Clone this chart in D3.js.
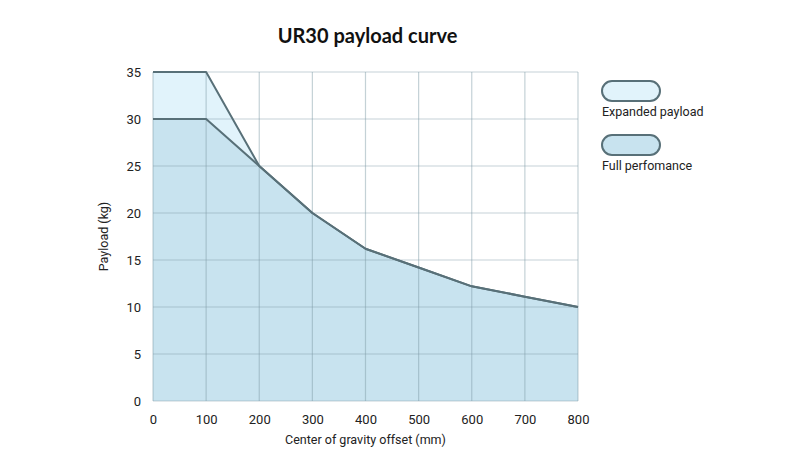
<!DOCTYPE html>
<html>
<head>
<meta charset="utf-8">
<script src="https://cdn.jsdelivr.net/npm/d3@7"></script>
<style>
  body { margin: 0; background: #fff; }
  text { font-family: Roboto, sans-serif; fill: #222; }
</style>
</head>
<body>
<div id="chart"></div>
<script>
// chart data
var offsets = [0, 100, 200, 300, 400, 500, 600, 700, 800];
var fullPayload = [30, 30, 25, 20, 16.2, 14.2, 12.2, 11.1, 10];
var expandedPayload = [35, 35, 25, 20, 16.2, 14.2, 12.2, 11.1, 10];
var yTicks = [0, 5, 10, 15, 20, 25, 30, 35];
var legendLabels = ["Expanded payload", "Full perfomance"];

var width = 800,
    height = 475,
    margins = { top: 72, right: 222, bottom: 74, left: 153 };

var lineColor = '#587078',
    fullFill = '#c8e3ef',
    expandedFill = '#e1f3fb';

var svg = d3.select('#chart').append('svg')
  .attr('width', width)
  .attr('height', height);

var x = d3.scaleLinear()
  .domain([0, 800])
  .range([margins.left, width - margins.right]);

var y = d3.scaleLinear()
  .domain([0, 35])
  .range([height - margins.bottom, margins.top]);

var area = d3.area()
  .x(function(d, i) { return x(offsets[i]); })
  .y0(y(0))
  .y1(function(d) { return y(d); });

var line = d3.line()
  .x(function(d, i) { return x(offsets[i]); })
  .y(function(d) { return y(d); });

svg.append('path')
  .attr('d', area(expandedPayload))
  .attr('fill', expandedFill);

svg.append('path')
  .attr('d', area(fullPayload))
  .attr('fill', fullFill);

// grid on top of the fills
var grid = svg.append('g')
  .attr('stroke', '#7d98a3')
  .attr('stroke-opacity', 0.45)
  .attr('stroke-width', 1.2);

grid.selectAll('.vgrid')
  .data(offsets)
  .enter().append('line')
  .attr('x1', function(d) { return x(d); })
  .attr('x2', function(d) { return x(d); })
  .attr('y1', y(0))
  .attr('y2', y(35));

grid.selectAll('.hgrid')
  .data(yTicks)
  .enter().append('line')
  .attr('x1', x(0))
  .attr('x2', x(800))
  .attr('y1', function(d) { return y(d); })
  .attr('y2', function(d) { return y(d); });

svg.append('path')
  .attr('d', line(expandedPayload))
  .attr('fill', 'none')
  .attr('stroke', lineColor)
  .attr('stroke-width', 2)
  .attr('stroke-linejoin', 'round');

svg.append('path')
  .attr('d', line(fullPayload))
  .attr('fill', 'none')
  .attr('stroke', lineColor)
  .attr('stroke-width', 2)
  .attr('stroke-linejoin', 'round');

// axes
var xAxis = d3.axisBottom(x).tickValues(offsets).tickSize(0).tickPadding(14);
var yAxis = d3.axisLeft(y).tickValues(yTicks).tickSize(0).tickPadding(12);

svg.append('g')
  .attr('transform', 'translate(0,' + y(0) + ')')
  .call(xAxis)
  .call(function(g) { g.select('.domain').remove(); })
  .selectAll('text')
  .attr('font-size', 13)
  .attr('font-family', 'Roboto, sans-serif')
  .attr('fill', '#222');

svg.append('g')
  .attr('transform', 'translate(' + x(0) + ',0)')
  .call(yAxis)
  .call(function(g) { g.select('.domain').remove(); })
  .selectAll('text')
  .attr('font-size', 13)
  .attr('font-family', 'Roboto, sans-serif')
  .attr('fill', '#222');

svg.append('text')
  .attr('x', (x(0) + x(800)) / 2)
  .attr('y', 444)
  .attr('text-anchor', 'middle')
  .attr('font-size', 12.5)
  .text('Center of gravity offset (mm)');

svg.append('text')
  .attr('transform', 'translate(108,' + (y(0) + y(35)) / 2 + ') rotate(-90)')
  .attr('text-anchor', 'middle')
  .attr('font-size', 12.5)
  .text('Payload (kg)');

svg.append('text')
  .attr('x', (x(0) + x(800)) / 2 + 2)
  .attr('y', 43)
  .attr('text-anchor', 'middle')
  .attr('font-size', 20)
  .attr('font-weight', 700)
  .style('font-family', 'Lato, sans-serif')
  .style('fill', '#111')
  .text('UR30 payload curve');

// legend
var legendFills = [expandedFill, fullFill];
var legend = svg.selectAll('.legend')
  .data(legendLabels)
  .enter().append('g')
  .attr('transform', function(d, i) { return 'translate(602,' + (81 + i * 54) + ')'; });

legend.append('rect')
  .attr('width', 58)
  .attr('height', 20)
  .attr('rx', 10)
  .attr('fill', function(d, i) { return legendFills[i]; })
  .attr('stroke', lineColor)
  .attr('stroke-width', 2);

legend.append('text')
  .attr('x', 0)
  .attr('y', 35)
  .attr('font-size', 12.5)
  .text(function(d) { return d; });
</script>
</body>
</html>
